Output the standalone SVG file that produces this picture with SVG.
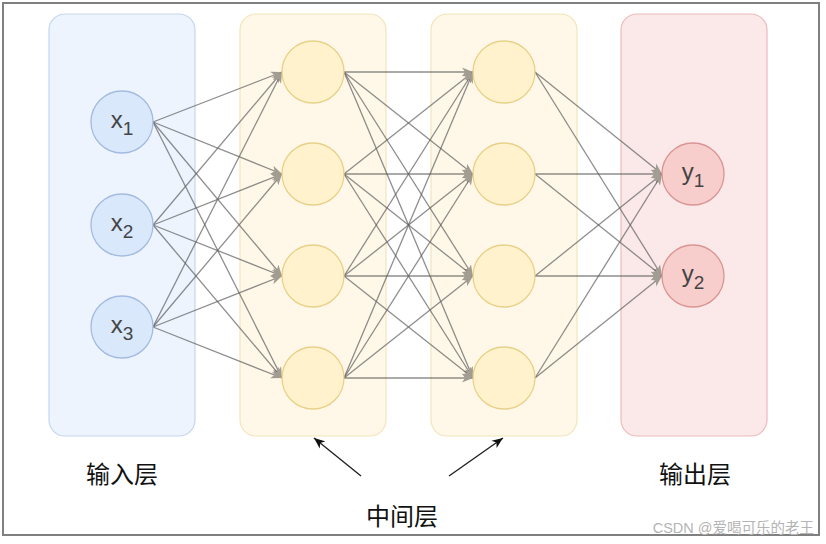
<svg xmlns="http://www.w3.org/2000/svg" width="826" height="544" viewBox="0 0 826 544">
<defs>
<style>
.frame{fill:#fff;stroke:#808080;stroke-width:2}
.pin{fill:#edf4fd;stroke:#c6d6ee;stroke-width:1.2}
.phid{fill:#fff8e8;stroke:#f2e4bb;stroke-width:1.2}
.pout{fill:#fbe8e8;stroke:#ebbcbb;stroke-width:1.2}
.nin{fill:#dae8fc;stroke:#a3bbe0;stroke-width:1.3}
.nhid{fill:#fff2cc;stroke:#e8d18a;stroke-width:1.3}
.nout{fill:#f8cecc;stroke:#d99593;stroke-width:1.3}
.lbl{font-family:"Liberation Sans",Arial,sans-serif;font-size:24px;fill:#444;text-anchor:middle}
.cjk{font-family:"Noto Sans CJK SC","Noto Sans",sans-serif;font-size:24px;fill:#111;text-anchor:middle}
.e{stroke:#5e5e5e;stroke-opacity:0.7;stroke-width:1.3;fill:none;marker-end:url(#ah)}
.b{stroke:#222;stroke-width:1.4;fill:none;marker-end:url(#bh)}
</style>
<marker id="ah" markerUnits="userSpaceOnUse" markerWidth="12" markerHeight="10" refX="11" refY="5" orient="auto">
<path d="M0,0.5 L11,5 L0,9.5 L3,5 z" fill="#a29d93"/>
</marker>
<marker id="bh" markerUnits="userSpaceOnUse" markerWidth="12" markerHeight="10" refX="11" refY="5" orient="auto">
<path d="M0,0.5 L11,5 L0,9.5 L3,5 z" fill="#111"/>
</marker>
</defs>
<rect class="frame" x="3" y="3" width="816" height="532"/>
<g id="panels">
<rect id="panel-input" class="pin" x="49" y="14" width="146" height="422" rx="16"/>
<rect id="panel-hidden1" class="phid" x="240" y="14" width="146" height="422" rx="16"/>
<rect id="panel-hidden2" class="phid" x="431" y="14" width="146" height="422" rx="16"/>
<rect id="panel-output" class="pout" x="621" y="14" width="146" height="422" rx="16"/>
</g>
<g id="connectors">
<line class="e" x1="153" y1="122" x2="282" y2="72"/>
<line class="e" x1="153" y1="122" x2="282" y2="174"/>
<line class="e" x1="153" y1="122" x2="282" y2="276"/>
<line class="e" x1="153" y1="122" x2="282" y2="378"/>
<line class="e" x1="153" y1="225" x2="282" y2="72"/>
<line class="e" x1="153" y1="225" x2="282" y2="174"/>
<line class="e" x1="153" y1="225" x2="282" y2="276"/>
<line class="e" x1="153" y1="225" x2="282" y2="378"/>
<line class="e" x1="153" y1="327" x2="282" y2="72"/>
<line class="e" x1="153" y1="327" x2="282" y2="174"/>
<line class="e" x1="153" y1="327" x2="282" y2="276"/>
<line class="e" x1="153" y1="327" x2="282" y2="378"/>
<line class="e" x1="344" y1="72" x2="473" y2="72"/>
<line class="e" x1="344" y1="72" x2="473" y2="174"/>
<line class="e" x1="344" y1="72" x2="473" y2="276"/>
<line class="e" x1="344" y1="72" x2="473" y2="378"/>
<line class="e" x1="344" y1="174" x2="473" y2="72"/>
<line class="e" x1="344" y1="174" x2="473" y2="174"/>
<line class="e" x1="344" y1="174" x2="473" y2="276"/>
<line class="e" x1="344" y1="174" x2="473" y2="378"/>
<line class="e" x1="344" y1="276" x2="473" y2="72"/>
<line class="e" x1="344" y1="276" x2="473" y2="174"/>
<line class="e" x1="344" y1="276" x2="473" y2="276"/>
<line class="e" x1="344" y1="276" x2="473" y2="378"/>
<line class="e" x1="344" y1="378" x2="473" y2="72"/>
<line class="e" x1="344" y1="378" x2="473" y2="174"/>
<line class="e" x1="344" y1="378" x2="473" y2="276"/>
<line class="e" x1="344" y1="378" x2="473" y2="378"/>
<line class="e" x1="535" y1="72" x2="662" y2="174"/>
<line class="e" x1="535" y1="72" x2="662" y2="276"/>
<line class="e" x1="535" y1="174" x2="662" y2="174"/>
<line class="e" x1="535" y1="174" x2="662" y2="276"/>
<line class="e" x1="535" y1="276" x2="662" y2="174"/>
<line class="e" x1="535" y1="276" x2="662" y2="276"/>
<line class="e" x1="535" y1="378" x2="662" y2="174"/>
<line class="e" x1="535" y1="378" x2="662" y2="276"/>
<line class="b" x1="361" y1="476" x2="314" y2="438"/>
<line class="b" x1="449" y1="476" x2="503" y2="438"/>
</g>
<g id="x1"><circle class="nin" cx="122" cy="122" r="31"/><text class="lbl" x="122" y="128">x<tspan font-size="19" dy="7">1</tspan></text></g>
<g id="x2"><circle class="nin" cx="122" cy="225" r="31"/><text class="lbl" x="122" y="231">x<tspan font-size="19" dy="7">2</tspan></text></g>
<g id="x3"><circle class="nin" cx="122" cy="327" r="31"/><text class="lbl" x="122" y="333">x<tspan font-size="19" dy="7">3</tspan></text></g>
<g id="h1-1"><circle class="nhid" cx="313" cy="72" r="31"/></g>
<g id="h1-2"><circle class="nhid" cx="313" cy="174" r="31"/></g>
<g id="h1-3"><circle class="nhid" cx="313" cy="276" r="31"/></g>
<g id="h1-4"><circle class="nhid" cx="313" cy="378" r="31"/></g>
<g id="h2-1"><circle class="nhid" cx="504" cy="72" r="31"/></g>
<g id="h2-2"><circle class="nhid" cx="504" cy="174" r="31"/></g>
<g id="h2-3"><circle class="nhid" cx="504" cy="276" r="31"/></g>
<g id="h2-4"><circle class="nhid" cx="504" cy="378" r="31"/></g>
<g id="y1"><circle class="nout" cx="693" cy="174" r="31"/><text class="lbl" x="693" y="180">y<tspan font-size="19" dy="7">1</tspan></text></g>
<g id="y2"><circle class="nout" cx="693" cy="276" r="31"/><text class="lbl" x="693" y="282">y<tspan font-size="19" dy="7">2</tspan></text></g>
<g id="labels">
<text class="cjk" x="122" y="483">输入层</text>
<text class="cjk" x="402" y="525">中间层</text>
<text class="cjk" x="695" y="483">输出层</text>
<text x="814" y="533" text-anchor="end" font-family="Liberation Sans, 'Noto Sans CJK SC', sans-serif" font-size="14.5" fill="#b4b4b4">CSDN @爱喝可乐的老王</text>
</g>
</svg>
